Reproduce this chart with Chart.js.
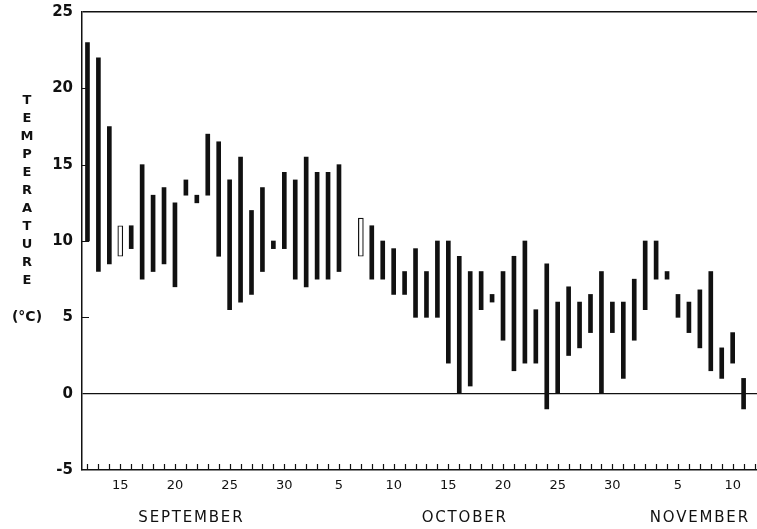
<!DOCTYPE html>
<html>
<head>
<meta charset="utf-8">
<script src="https://cdn.jsdelivr.net/npm/chart.js@4.4.1/dist/chart.umd.min.js"></script>
<style>
  html, body { margin: 0; padding: 0; background: #fff; overflow: hidden; }
  #wrap { position: absolute; left: 0; top: 0; width: 762px; height: 529px; }
</style>
</head>
<body>
<div id="wrap"><canvas id="c"></canvas></div>
<script>
// Daily water temperature ranges, 12 September to 12 November
const categories = [
  'Sep 12','Sep 13','Sep 14','Sep 15','Sep 16','Sep 17','Sep 18','Sep 19','Sep 20','Sep 21',
  'Sep 22','Sep 23','Sep 24','Sep 25','Sep 26','Sep 27','Sep 28','Sep 29','Sep 30',
  'Oct 1','Oct 2','Oct 3','Oct 4','Oct 5','Oct 6','Oct 7','Oct 8','Oct 9','Oct 10',
  'Oct 11','Oct 12','Oct 13','Oct 14','Oct 15','Oct 16','Oct 17','Oct 18','Oct 19','Oct 20',
  'Oct 21','Oct 22','Oct 23','Oct 24','Oct 25','Oct 26','Oct 27','Oct 28','Oct 29','Oct 30','Oct 31',
  'Nov 1','Nov 2','Nov 3','Nov 4','Nov 5','Nov 6','Nov 7','Nov 8','Nov 9','Nov 10','Nov 11','Nov 12'
];

// daily minimum (°C)
const lowTemps = [
  10, 8, 8.5, 9, 9.5, 7.5, 8, 8.5, 7, 13,
  12.5, 13, 9, 5.5, 6, 6.5, 8, 9.5, 9.5,
  7.5, 7, 7.5, 7.5, 8, null, 9, 7.5, 7.5, 6.5,
  6.5, 5, 5, 5, 2, 0, 0.5, 5.5, 6, 3.5,
  1.5, 2, 2, -1, 0, 2.5, 3, 4, 0, 4, 1,
  3.5, 5.5, 7.5, 7.5, 5, 4, 3, 1.5, 1, 2, -1, null
];

// daily maximum (°C)
const highTemps = [
  23, 22, 17.5, 11, 11, 15, 13, 13.5, 12.5, 14,
  13, 17, 16.5, 14, 15.5, 12, 13.5, 10, 14.5,
  14, 15.5, 14.5, 14.5, 15, null, 11.5, 11, 10, 9.5,
  8, 9.5, 8, 10, 10, 9, 8, 8, 6.5, 8,
  9, 10, 5.5, 8.5, 6, 7, 6, 6.5, 8, 6, 6,
  7.5, 10, 10, 8, 6.5, 6, 6.8, 8, 3, 4, 1, null
];

// days drawn as open bars
const openDays = ['Sep 15', 'Oct 7'];

const yTickValues = [-5, 0, 5, 10, 15, 20, 25];
const xTickDates = ['Sep 15','Sep 20','Sep 25','Sep 30','Oct 5','Oct 10','Oct 15','Oct 20','Oct 25','Oct 30','Nov 5','Nov 10'];
const xTickLabels = ['15','20','25','30','5','10','15','20','25','30','5','10'];

const monthNames = ['SEPTEMBER', 'OCTOBER', 'NOVEMBER'];
const monthAnchors = [['Sep 21','Sep 22'], ['Oct 16','Oct 17'], ['Nov 7','Nov 7']];

const yTitleLetters = 'TEMPERATURE'.split('');
const yUnit = '(°C)';

const INK = '#111';

const solidData = categories.map((d, i) =>
  lowTemps[i] == null || openDays.includes(d) ? null : [lowTemps[i], highTemps[i]]);
const openData = categories.map((d, i) =>
  lowTemps[i] == null || !openDays.includes(d) ? null : [lowTemps[i], highTemps[i]]);

const decorations = {
  id: 'decorations',
  afterDraw(chart) {
    const ctx = chart.ctx;
    const area = chart.chartArea;
    const xs = chart.scales.x;
    const ys = chart.scales.y;
    ctx.save();
    ctx.strokeStyle = INK;
    ctx.lineWidth = 1.2;
    // inward day ticks along the bottom axis
    ctx.beginPath();
    categories.forEach((c, i) => {
      const x = Math.round(xs.getPixelForValue(i)) + 0.5;
      ctx.moveTo(x, area.bottom);
      ctx.lineTo(x, area.bottom - 6);
    });
    // inward ticks on the temperature axis
    yTickValues.filter(v => v > -5 && v < 25 && v !== 0).forEach(v => {
      const y = Math.round(ys.getPixelForValue(v)) + 0.5;
      ctx.moveTo(area.left, y);
      ctx.lineTo(area.left + 7, y);
    });
    ctx.stroke();

    // vertical axis title, one letter per line
    ctx.fillStyle = INK;
    ctx.textAlign = 'center';
    ctx.textBaseline = 'middle';
    ctx.font = 'bold 13px "DejaVu Sans"';
    yTitleLetters.forEach((ch, i) => ctx.fillText(ch, 27, 101 + i * 18));
    ctx.font = 'bold 14px "DejaVu Sans"';
    ctx.fillText(yUnit, 27, 317);

    // month names under the day labels
    ctx.font = '15px "DejaVu Sans"';
    ctx.letterSpacing = '1.8px';
    monthNames.forEach((m, i) => {
      const a = xs.getPixelForValue(categories.indexOf(monthAnchors[i][0]));
      const b = xs.getPixelForValue(categories.indexOf(monthAnchors[i][1]));
      ctx.fillText(m, (a + b) / 2, 518);
    });
    ctx.restore();
  }
};

new Chart(document.getElementById('c'), {
  type: 'bar',
  data: {
    labels: categories,
    datasets: [
      {
        label: 'range',
        data: solidData,
        backgroundColor: INK,
        borderWidth: 0,
        barThickness: 4,
        grouped: false,
        order: 2
      },
      {
        label: 'range (open)',
        data: openData,
        backgroundColor: '#fff',
        borderColor: INK,
        borderWidth: 1.2,
        borderSkipped: false,
        barThickness: 5,
        grouped: false,
        order: 1
      }
    ]
  },
  options: {
    responsive: true,
    maintainAspectRatio: false,
    animation: false,
    devicePixelRatio: 1,
    layout: { padding: { top: 12, right: 2, left: 0, bottom: 0 } },
    plugins: {
      legend: { display: false },
      tooltip: { enabled: false }
    },
    scales: {
      x: {
        type: 'category',
        offset: true,
        grid: { display: false, drawTicks: false },
        border: { display: true, color: INK, width: 1.5 },
        ticks: {
          autoSkip: false,
          maxRotation: 0,
          padding: 8,
          color: INK,
          font: { family: 'DejaVu Sans', size: 13 },
          callback: (v, i) => {
            const k = xTickDates.indexOf(categories[i]);
            return k >= 0 ? xTickLabels[k] : '';
          }
        },
        afterFit: s => { s.height = 59; s.paddingLeft = 0; s.paddingRight = 0; }
      },
      y: {
        min: -5,
        max: 25,
        afterBuildTicks: s => { s.ticks = yTickValues.map(v => ({ value: v })); },
        grid: {
          drawTicks: false,
          color: c => (c.tick && (c.tick.value === 0 || c.tick.value === 25)) ? INK : 'rgba(0,0,0,0)',
          lineWidth: c => (c.tick && c.tick.value === 25) ? 1.6 : 1.3
        },
        border: { display: true, color: INK, width: 1.5 },
        ticks: {
          padding: 9,
          color: INK,
          font: { family: 'DejaVu Sans', size: 15, weight: 'bold' }
        },
        afterFit: s => { s.width = 82; s.paddingTop = 0; s.paddingBottom = 0; }
      }
    }
  },
  plugins: [decorations]
});
</script>
</body>
</html>
